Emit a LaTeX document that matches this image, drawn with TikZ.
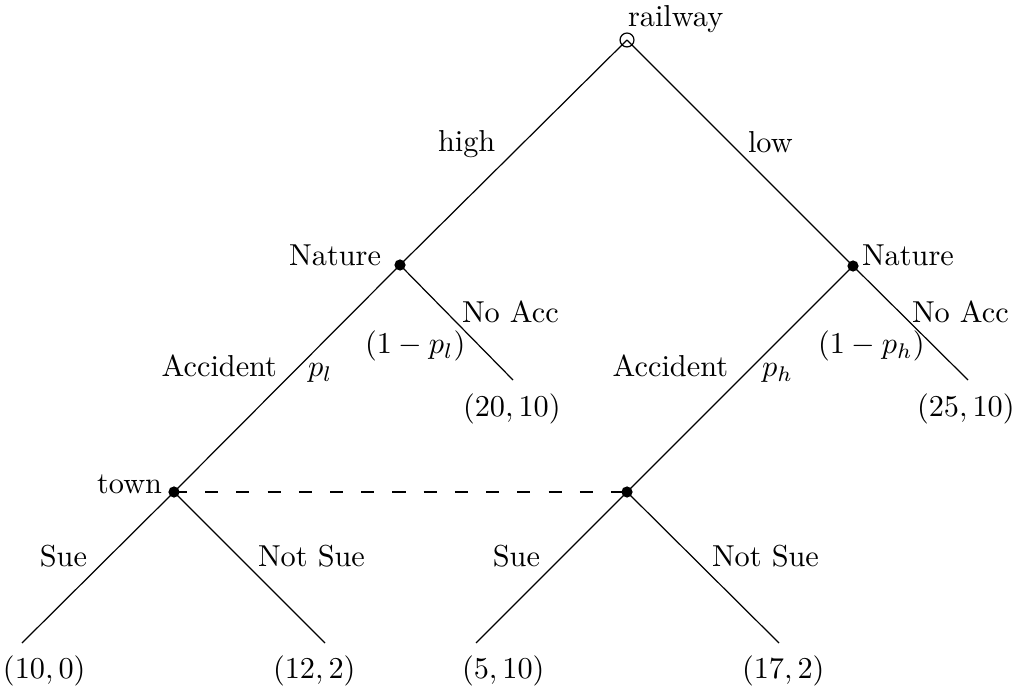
\documentclass[tikz,border=0pt]{standalone}
\usetikzlibrary{positioning}
\begin{document}
\begin{tikzpicture}[x=0.33pt,y=-0.33pt,
  lbl/.style={inner sep=0pt,outer sep=0pt},
  dotnode/.style={circle,fill=black,inner sep=0pt,minimum size=3.7pt},
  opennode/.style={circle,draw=black,inner sep=0pt,minimum size=4.6pt,line width=0.4pt},
  edge/.style={line width=0.4pt},
  info/.style={line width=0.55pt,dash pattern=on 4.3pt off 6pt}]
\useasboundingbox (0,0) rectangle (1015,689);
% decision nodes
\coordinate (r) at (627,40);
\coordinate (n1) at (400,265);
\coordinate (n2) at (853,266);
\coordinate (t1) at (174,492);
\coordinate (t2) at (627,492);
% ends
\coordinate (e1) at (513,380);
\coordinate (e2) at (968,380);
\coordinate (l1) at (22,643);
\coordinate (l2) at (325,643);
\coordinate (l3) at (476,643);
\coordinate (l4) at (779,643);
% edges
\draw[edge] (r) -- (n1);
\draw[edge] (r) -- (n2);
\draw[edge] (n1) -- (t1);
\draw[edge] (n1) -- (e1);
\draw[edge] (n2) -- (t2);
\draw[edge] (n2) -- (e2);
\draw[edge] (t1) -- (l1);
\draw[edge] (t1) -- (l2);
\draw[edge] (t2) -- (l3);
\draw[edge] (t2) -- (l4);
\draw[info] (t1) -- (t2);
% node markers
\node[opennode] (rc) at (r) {};
\node[dotnode] (n1d) at (n1) {};
\node[dotnode] (n2d) at (n2) {};
\node[dotnode] (t1d) at (t1) {};
\node[dotnode] (t2d) at (t2) {};
% labels
\node[lbl,anchor=base west] (lrail) at (628,27) {railway};
\node[lbl,anchor=base west] (lhigh) at (438,152) {high};
\node[lbl,anchor=base west] (llow) at (748,153) {low};
\node[lbl,anchor=base east] (lnat1) at (381,266) {Nature};
\node[lbl,anchor=base west] (lnat2) at (862,266) {Nature};
\node[lbl,anchor=base west] (lna1) at (462,323) {No Acc};
\node[lbl,anchor=base west] (lq1) at (365,354) {$(1-p_l)$};
\node[lbl,anchor=base west] (lna2) at (912,323) {No Acc};
\node[lbl,anchor=base west] (lq2) at (818,354) {$(1-p_h)$};
\node[lbl,anchor=base east] (lacc1) at (277,377) {Accident};
\node[lbl,anchor=base west] (lp1) at (308,377) {$p_l$};
\node[lbl,anchor=base east] (lacc2) at (728,377) {Accident};
\node[lbl,anchor=base west] (lp2) at (762,377) {$p_h$};
\node[lbl,anchor=base west] (lpay1) at (463,417) {$(20,10)$};
\node[lbl,anchor=base west] (lpay2) at (917,417) {$(25,10)$};
\node[lbl,anchor=base east] (ltown) at (162,493) {town};
\node[lbl,anchor=base east] (lsue1) at (87,566) {Sue};
\node[lbl,anchor=base west] (lns1) at (258,566) {Not Sue};
\node[lbl,anchor=base east] (lsue2) at (540,566) {Sue};
\node[lbl,anchor=base west] (lns2) at (712,566) {Not Sue};
\node[lbl,anchor=base west] (lpay3) at (3,678) {$(10,0)$};
\node[lbl,anchor=base west] (lpay4) at (273,678) {$(12,2)$};
\node[lbl,anchor=base west] (lpay5) at (462,678) {$(5,10)$};
\node[lbl,anchor=base west] (lpay6) at (742,678) {$(17,2)$};
\end{tikzpicture}
\end{document}
